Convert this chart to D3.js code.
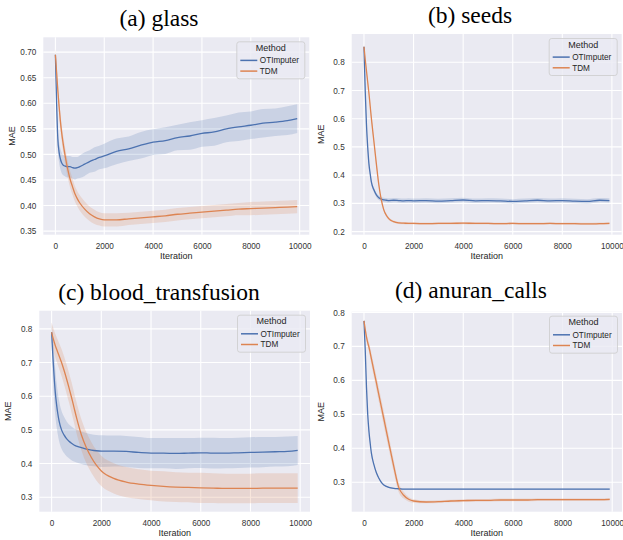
<!DOCTYPE html>
<html>
<head>
<meta charset="utf-8">
<script src="https://cdn.jsdelivr.net/npm/d3@7"></script>
<style>
  html, body { margin: 0; padding: 0; background: #ffffff; }
  svg { display: block; }
</style>
</head>
<body>
<svg id="fig" width="623" height="540"></svg>
<script>
// Iterations at which the imputation error was recorded
const iters = [0,50,100,150,200,250,300,400,500,600,700,800,900,1000,1200,1400,1600,1800,2000,
  2500,3000,3500,4000,4500,5000,5500,6000,6500,7000,7500,8000,8500,9000,9500,9900];

const methods = ["OTImputer", "TDM"];
const xTicks = [0, 2000, 4000, 6000, 8000, 10000];

// (a) glass — mean MAE and half-width of the confidence band
const glassOT = [0.695,0.600,0.530,0.505,0.492,0.484,0.480,0.477,0.476,0.476,0.474,0.473,0.474,0.476,0.481,0.486,0.490,0.494,0.497,
  0.506,0.511,0.518,0.524,0.527,0.533,0.536,0.541,0.544,0.550,0.554,0.557,0.561,0.563,0.566,0.570];
const glassOTBand = [0.012,0.020,0.020,0.020,0.020,0.020,0.020,0.020,0.021,0.021,0.021,0.022,0.021,0.022,0.023,0.022,0.024,0.023,0.024,
  0.025,0.024,0.026,0.025,0.026,0.025,0.027,0.026,0.027,0.026,0.028,0.027,0.028,0.027,0.028,0.028];
const glassTDM = [0.695,0.660,0.625,0.595,0.567,0.545,0.527,0.497,0.472,0.452,0.437,0.423,0.413,0.405,0.393,0.384,0.378,0.374,0.372,
  0.372,0.374,0.376,0.378,0.380,0.383,0.385,0.387,0.389,0.391,0.393,0.394,0.395,0.396,0.397,0.398];
const glassTDMBand = [0.012,0.014,0.015,0.015,0.016,0.016,0.016,0.016,0.016,0.016,0.016,0.015,0.015,0.015,0.015,0.014,0.014,0.013,0.013,
  0.013,0.012,0.012,0.012,0.012,0.012,0.012,0.012,0.012,0.012,0.012,0.013,0.013,0.013,0.013,0.013];
const glassTicks = [0.35,0.40,0.45,0.50,0.55,0.60,0.65,0.70];

// (b) seeds
const seedsOT = [0.855,0.700,0.580,0.500,0.440,0.405,0.375,0.348,0.330,0.320,0.315,0.312,0.311,0.310,0.311,0.310,0.309,0.310,0.309,
  0.310,0.308,0.310,0.312,0.309,0.310,0.309,0.307,0.309,0.311,0.309,0.310,0.308,0.307,0.311,0.310];
const seedsOTBand = [0.012,0.012,0.010,0.010,0.009,0.009,0.008,0.008,0.008,0.008,0.008,0.008,0.008,0.008,0.008,0.008,0.008,0.008,0.008,
  0.008,0.008,0.008,0.008,0.008,0.008,0.008,0.008,0.008,0.008,0.008,0.008,0.008,0.008,0.008,0.008];
const seedsTDM = [0.855,0.810,0.770,0.730,0.690,0.645,0.600,0.520,0.440,0.365,0.312,0.277,0.258,0.246,0.235,0.231,0.230,0.229,0.229,
  0.228,0.229,0.229,0.230,0.229,0.229,0.228,0.229,0.228,0.228,0.229,0.228,0.228,0.227,0.228,0.229];
const seedsTDMBand = [0.012,0.010,0.010,0.010,0.010,0.010,0.010,0.009,0.009,0.008,0.007,0.006,0.005,0.005,0.004,0.004,0.004,0.004,0.004,
  0.004,0.004,0.004,0.004,0.004,0.004,0.004,0.004,0.004,0.004,0.004,0.004,0.004,0.004,0.004,0.004];
const seedsTicks = [0.2,0.3,0.4,0.5,0.6,0.7,0.8];

// (c) blood_transfusion
const bloodOT = [0.790,0.720,0.660,0.610,0.575,0.548,0.527,0.500,0.485,0.474,0.466,0.460,0.455,0.452,0.447,0.443,0.440,0.438,0.437,
  0.437,0.436,0.433,0.431,0.431,0.430,0.431,0.432,0.431,0.431,0.432,0.433,0.434,0.435,0.436,0.439];
const bloodOTBand = [0.030,0.060,0.068,0.068,0.065,0.062,0.060,0.056,0.054,0.052,0.050,0.050,0.049,0.049,0.048,0.048,0.047,0.047,0.047,
  0.046,0.046,0.046,0.045,0.045,0.046,0.045,0.045,0.046,0.045,0.045,0.045,0.045,0.044,0.044,0.043];
const bloodTDM = [0.790,0.775,0.762,0.750,0.740,0.730,0.720,0.700,0.677,0.652,0.625,0.597,0.567,0.537,0.485,0.447,0.418,0.395,0.378,
  0.356,0.345,0.339,0.335,0.332,0.330,0.329,0.328,0.327,0.326,0.326,0.326,0.327,0.327,0.327,0.327];
const bloodTDMBand = [0.030,0.032,0.034,0.035,0.036,0.037,0.038,0.040,0.042,0.043,0.044,0.045,0.045,0.046,0.046,0.046,0.045,0.045,0.045,
  0.045,0.045,0.044,0.044,0.045,0.044,0.044,0.045,0.044,0.044,0.044,0.044,0.044,0.044,0.044,0.044];
const bloodTicks = [0.3,0.4,0.5,0.6,0.7,0.8];

// (d) anuran_calls
const anuranOT = [0.775,0.690,0.580,0.500,0.450,0.415,0.385,0.352,0.328,0.312,0.300,0.292,0.288,0.285,0.282,0.281,0.280,0.280,0.280,
  0.280,0.280,0.280,0.280,0.280,0.280,0.280,0.280,0.280,0.280,0.280,0.280,0.280,0.280,0.280,0.280];
const anuranOTBand = [0.004,0.004,0.004,0.003,0.003,0.003,0.003,0.002,0.002,0.002,0.002,0.002,0.002,0.002,0.002,0.002,0.002,0.002,0.002,
  0.002,0.002,0.002,0.002,0.002,0.002,0.002,0.002,0.002,0.002,0.002,0.002,0.002,0.002,0.002,0.002];
const anuranTDM = [0.775,0.750,0.728,0.711,0.698,0.681,0.663,0.628,0.593,0.557,0.522,0.487,0.451,0.416,0.347,0.285,0.262,0.250,0.245,
  0.242,0.243,0.245,0.246,0.247,0.247,0.248,0.248,0.248,0.249,0.249,0.249,0.249,0.249,0.249,0.250];
const anuranTDMBand = [0.005,0.008,0.010,0.012,0.014,0.016,0.017,0.019,0.020,0.021,0.021,0.021,0.021,0.020,0.018,0.014,0.010,0.007,0.005,
  0.004,0.004,0.004,0.004,0.004,0.004,0.004,0.004,0.004,0.004,0.004,0.004,0.004,0.004,0.004,0.004];
const anuranTicks = [0.3,0.4,0.5,0.6,0.7,0.8];

const colors = { OTImputer: "#4c72b0", TDM: "#dd8452" };

const panels = [
  { title: "(a) glass", series: [glassOT, glassTDM], bands: [glassOTBand, glassTDMBand], yTicks: glassTicks, fmt: ".2f",
    box: { x0: 43.3, x1: 309.3, y0: 37.3, y1: 234.7 }, yDom: [0.343, 0.729], titleX: 159, titleY: 26 },
  { title: "(b) seeds", series: [seedsOT, seedsTDM], bands: [seedsOTBand, seedsTDMBand], yTicks: seedsTicks, fmt: ".1f",
    box: { x0: 351.7, x1: 621.7, y0: 34, y1: 234.7 }, yDom: [0.189, 0.90], titleX: 470, titleY: 23 },
  { title: "(c) blood_transfusion", series: [bloodOT, bloodTDM], bands: [bloodOTBand, bloodTDMBand], yTicks: bloodTicks, fmt: ".1f",
    box: { x0: 39.3, x1: 310, y0: 310.7, y1: 511.7 }, yDom: [0.257, 0.854], titleX: 159, titleY: 300 },
  { title: "(d) anuran_calls", series: [anuranOT, anuranTDM], bands: [anuranOTBand, anuranTDMBand], yTicks: anuranTicks, fmt: ".1f",
    box: { x0: 351.7, x1: 622, y0: 311.7, y1: 511.7 }, yDom: [0.2135, 0.802], titleX: 471, titleY: 298 }
];

const svg = d3.select("#fig");
const sans = "'Liberation Sans', Arial, sans-serif";
const serif = "'Liberation Serif', 'Times New Roman', serif";
const textColor = "#262626";

// matplotlib-style 5% margin around the iteration range
const iterExt = d3.extent(iters);
const pad = (iterExt[1] - iterExt[0]) * 0.05;

panels.forEach(p => {
  const b = p.box;
  const x = d3.scaleLinear().domain([iterExt[0] - pad, iterExt[1] + pad]).range([b.x0, b.x1]);
  const y = d3.scaleLinear().domain(p.yDom).range([b.y1, b.y0]);
  const g = svg.append("g");

  // title
  g.append("text").attr("x", p.titleX).attr("y", p.titleY).attr("text-anchor", "middle")
    .attr("font-family", serif).attr("font-size", 23.5).attr("fill", "#000").text(p.title);

  // plot background
  g.append("rect").attr("x", b.x0).attr("y", b.y0).attr("width", b.x1 - b.x0).attr("height", b.y1 - b.y0)
    .attr("fill", "#eaeaf2");

  // grid
  g.append("g").selectAll("line").data(xTicks).join("line")
    .attr("x1", d => x(d)).attr("x2", d => x(d)).attr("y1", b.y0).attr("y2", b.y1)
    .attr("stroke", "#fff").attr("stroke-width", 1.1);
  g.append("g").selectAll("line").data(p.yTicks).join("line")
    .attr("x1", b.x0).attr("x2", b.x1).attr("y1", d => y(d)).attr("y2", d => y(d))
    .attr("stroke", "#fff").attr("stroke-width", 1.1);

  // axes
  const xAxis = g.append("g").attr("transform", `translate(0,${b.y1})`)
    .call(d3.axisBottom(x).tickValues(xTicks).tickSize(0).tickPadding(8).tickFormat(d3.format("d")));
  const yAxis = g.append("g").attr("transform", `translate(${b.x0},0)`)
    .call(d3.axisLeft(y).tickValues(p.yTicks).tickSize(0).tickPadding(7).tickFormat(d3.format(p.fmt)));
  [xAxis, yAxis].forEach(a => {
    a.select(".domain").remove();
    a.selectAll("text").attr("font-family", sans).attr("font-size", 8.2).attr("fill", "#333");
  });

  // axis labels
  g.append("text").attr("x", (b.x0 + b.x1) / 2).attr("y", b.y1 + 24.5).attr("text-anchor", "middle")
    .attr("font-family", sans).attr("font-size", 9).attr("fill", textColor).text("Iteration");
  g.append("text").attr("transform", `translate(${b.x0 - 28},${(b.y0 + b.y1) / 2}) rotate(-90)`)
    .attr("text-anchor", "middle").attr("font-family", sans).attr("font-size", 9).attr("fill", textColor).text("MAE");

  // bands and mean lines
  const clipId = "clip" + p.title.replace(/\W/g, "");
  g.append("clipPath").attr("id", clipId).append("rect")
    .attr("x", b.x0).attr("y", b.y0).attr("width", b.x1 - b.x0).attr("height", b.y1 - b.y0);
  const plot = g.append("g").attr("clip-path", `url(#${clipId})`);

  methods.forEach((m, i) => {
    const rows = iters.map((it, k) => ({ it, v: p.series[i][k], s: p.bands[i][k] }));
    plot.append("path").datum(rows)
      .attr("d", d3.area().curve(d3.curveMonotoneX).x(d => x(d.it)).y0(d => y(d.v - d.s)).y1(d => y(d.v + d.s)))
      .attr("fill", colors[m]).attr("fill-opacity", 0.2);
  });
  methods.forEach((m, i) => {
    const rows = iters.map((it, k) => ({ it, v: p.series[i][k] }));
    plot.append("path").datum(rows)
      .attr("d", d3.line().curve(d3.curveMonotoneX).x(d => x(d.it)).y(d => y(d.v)))
      .attr("fill", "none").attr("stroke", colors[m]).attr("stroke-width", 1.3);
  });

  // legend
  const lw = 68, lh = 37;
  const lx = b.x1 - 4.5 - lw, ly = b.y0 + 4.5;
  const leg = g.append("g").attr("transform", `translate(${lx},${ly})`);
  leg.append("rect").attr("width", lw).attr("height", lh).attr("rx", 2.5)
    .attr("fill", "#eaeaf2").attr("fill-opacity", 0.8).attr("stroke", "#cccccc").attr("stroke-width", 0.8);
  leg.append("text").attr("x", lw / 2).attr("y", 9).attr("text-anchor", "middle")
    .attr("font-family", sans).attr("font-size", 9).attr("fill", textColor).text("Method");
  methods.forEach((m, i) => {
    const cy = 18.6 + i * 10.7;
    leg.append("line").attr("x1", 3.5).attr("x2", 20.5).attr("y1", cy).attr("y2", cy)
      .attr("stroke", colors[m]).attr("stroke-width", 1.5);
    leg.append("text").attr("x", 23).attr("y", cy + 3).attr("font-family", sans).attr("font-size", 8.2)
      .attr("fill", textColor).text(m);
  });
});
</script>
</body>
</html>
